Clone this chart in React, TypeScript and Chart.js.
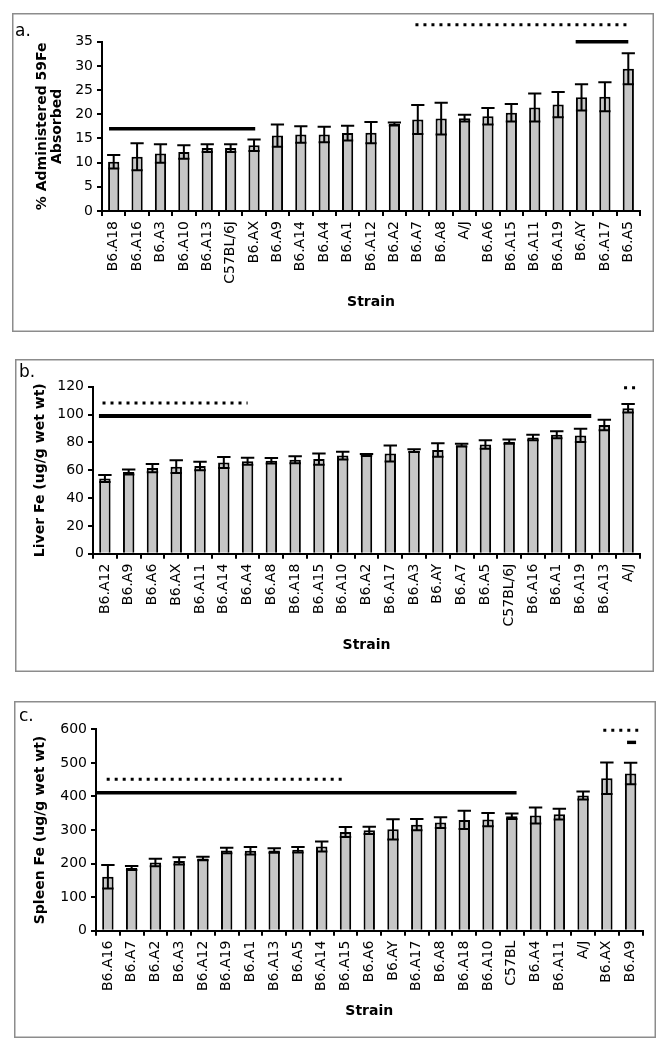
import React, { useEffect, useRef } from 'react';
import { Chart, registerables } from 'chart.js';

Chart.register(...registerables);

const FONT = '"DejaVu Sans", Verdana, sans-serif';
const BAR_FILL = '#c6c6c6';

// ---------- Panel a: % administered 59Fe absorbed ----------
const absorptionStrains = ['B6.A18', 'B6.A16', 'B6.A3', 'B6.A10', 'B6.A13', 'C57BL/6J', 'B6.AX', 'B6.A9', 'B6.A14', 'B6.A4', 'B6.A1', 'B6.A12', 'B6.A2', 'B6.A7', 'B6.A8', 'A/J', 'B6.A6', 'B6.A15', 'B6.A11', 'B6.A19', 'B6.AY', 'B6.A17', 'B6.A5'];
const absorptionMeans = [10.2, 11.2, 11.9, 12.2, 13.0, 13.0, 13.6, 15.6, 15.8, 15.8, 16.1, 16.2, 18.0, 18.9, 19.1, 19.2, 19.6, 20.3, 21.4, 22.0, 23.5, 23.6, 29.4];
const absorptionErrors = [1.4, 2.8, 1.9, 1.4, 0.8, 0.8, 1.2, 2.3, 1.7, 1.6, 1.5, 2.2, 0.3, 3.0, 3.3, 0.7, 1.7, 1.8, 2.9, 2.6, 2.7, 3.0, 3.2];
const absorptionTicks = [0, 5, 10, 15, 20, 25, 30, 35];
const absorptionSolidBars = [
  { from: -0.2, to: 6.05, value: 17 },
  { from: 19.75, to: 22.0, value: 35 },
];
const absorptionDottedBars = [{ from: 12.9, to: 22.05, value: 38.5 }];

// ---------- Panel b: liver Fe ----------
const liverStrains = ['B6.A12', 'B6.A9', 'B6.A6', 'B6.AX', 'B6.A11', 'B6.A14', 'B6.A4', 'B6.A8', 'B6.A18', 'B6.A15', 'B6.A10', 'B6.A2', 'B6.A17', 'B6.A3', 'B6.AY', 'B6.A7', 'B6.A5', 'C57BL/6J', 'B6.A16', 'B6.A1', 'B6.A19', 'B6.A13', 'A/J'];
const liverMeans = [54, 58.7, 61.5, 62.5, 63, 65.5, 66.5, 66.8, 67.5, 68, 70.5, 71, 72, 74, 74.5, 78, 78.5, 80.5, 83.5, 85.5, 85, 92.5, 104.5];
const liverErrors = [2.5, 1.8, 3, 4.6, 3, 4, 2.5, 2, 2.5, 4, 2.8, 0.7, 5.8, 1, 4.8, 1, 3, 1.5, 2, 2.5, 4.8, 3.8, 3];
const liverTicks = [0, 20, 40, 60, 80, 100, 120];
const liverSolidBars = [{ from: -0.25, to: 20.45, value: 99 }];
const liverDottedBars = [
  { from: -0.1, to: 6.0, value: 108.3 },
  { from: 21.83, to: 22.3, value: 119.3 },
];

// ---------- Panel c: spleen Fe ----------
const spleenStrains = ['B6.A16', 'B6.A7', 'B6.A2', 'B6.A3', 'B6.A12', 'B6.A19', 'B6.A1', 'B6.A13', 'B6.A5', 'B6.A14', 'B6.A15', 'B6.A6', 'B6.AY', 'B6.A17', 'B6.A8', 'B6.A18', 'B6.A10', 'C57BL', 'B6.A4', 'B6.A11', 'A/J', 'B6.AX', 'B6.A9'];
const spleenMeans = [161, 187, 203, 208, 215, 239, 238, 239, 241, 251, 294, 299, 302, 316, 322, 330, 331, 341, 343, 347, 403, 454, 468];
const spleenErrors = [35, 6, 11, 11, 5, 8, 11, 7, 8, 15, 15, 11, 30, 17, 16, 27, 20, 8, 24, 16, 12, 47, 32];
const spleenTicks = [0, 100, 200, 300, 400, 500, 600];
const spleenSolidBars = [
  { from: -0.5, to: 17.2, value: 411 },
  { from: 21.85, to: 22.23, value: 561 },
];
const spleenDottedBars = [
  { from: -0.05, to: 10.05, value: 451 },
  { from: 20.85, to: 22.32, value: 597 },
];

type Sig = { from: number; to: number; value: number };
type Frame = {
  left: number; top: number; width: number; height: number;
  padTop: number; padRight: number; padBottom: number;
  yWidth: number; xHeight: number; yTitlePad: number; yTitleLineHeight: number;
  solidWidth: number; letterX: number; letterY: number;
};
type PanelDef = {
  letter: string;
  labels: string[];
  means: number[];
  errors: number[];
  ticks: number[];
  yTitle: string | string[];
  solid: Sig[];
  dotted: Sig[];
  frame: Frame;
};

const PANELS: PanelDef[] = [
  {
    letter: 'a.',
    labels: absorptionStrains,
    means: absorptionMeans,
    errors: absorptionErrors,
    ticks: absorptionTicks,
    yTitle: ['% Administered 59Fe', 'Absorbed'],
    solid: absorptionSolidBars,
    dotted: absorptionDottedBars,
    frame: {
      left: 12, top: 13, width: 642, height: 319,
      padTop: 28.7, padRight: 14, padBottom: 17,
      yWidth: 90, xHeight: 104, yTitlePad: 22.3, yTitleLineHeight: 1.1,
      solidWidth: 3.6, letterX: 3, letterY: 19,
    },
  },
  {
    letter: 'b.',
    labels: liverStrains,
    means: liverMeans,
    errors: liverErrors,
    ticks: liverTicks,
    yTitle: 'Liver Fe (ug/g wet wt)',
    solid: liverSolidBars,
    dotted: liverDottedBars,
    frame: {
      left: 15, top: 359, width: 639, height: 313,
      padTop: 27.7, padRight: 14, padBottom: 14.6,
      yWidth: 78, xHeight: 103.7, yTitlePad: 16.6, yTitleLineHeight: 1.2,
      solidWidth: 4, letterX: 4, letterY: 14,
    },
  },
  {
    letter: 'c.',
    labels: spleenStrains,
    means: spleenMeans,
    errors: spleenErrors,
    ticks: spleenTicks,
    yTitle: 'Spleen Fe (ug/g wet wt)',
    solid: spleenSolidBars,
    dotted: spleenDottedBars,
    frame: {
      left: 14, top: 701, width: 642, height: 337,
      padTop: 28.3, padRight: 13.5, padBottom: 14.6,
      yWidth: 82, xHeight: 92.7, yTitlePad: 17.6, yTitleLineHeight: 1.2,
      solidWidth: 3.4, letterX: 5, letterY: 16,
    },
  },
];

function decorPlugin(panel: PanelDef) {
  return {
    id: 'decor',
    afterDatasetsDraw(chart: any) {
      const ctx = chart.ctx;
      const yScale = chart.scales.y;
      const meta = chart.getDatasetMeta(0);
      ctx.save();
      ctx.strokeStyle = '#000';
      ctx.lineWidth = 2;
      meta.data.forEach((bar: any, i: number) => {
        const m = panel.means[i];
        const e = panel.errors[i];
        const cx = bar.x;
        const w = bar.width;
        const yTop = yScale.getPixelForValue(m + e);
        const yBot = yScale.getPixelForValue(m - e);
        ctx.beginPath();
        ctx.moveTo(cx, yTop);
        ctx.lineTo(cx, yBot);
        ctx.moveTo(cx - w / 2 - 1, yTop);
        ctx.lineTo(cx + w / 2 + 1, yTop);
        ctx.moveTo(cx - w / 2, yBot);
        ctx.lineTo(cx + w / 2, yBot);
        ctx.stroke();
      });
      ctx.restore();
    },
    afterDraw(chart: any) {
      const ctx = chart.ctx;
      const xScale = chart.scales.x;
      const yScale = chart.scales.y;
      const f = panel.frame;
      ctx.save();
      ctx.strokeStyle = '#000';
      ctx.lineCap = 'butt';
      // solid significance bars
      ctx.lineWidth = f.solidWidth;
      panel.solid.forEach((s) => {
        const y = yScale.getPixelForValue(s.value);
        ctx.beginPath();
        ctx.moveTo(xScale.getPixelForValue(s.from), y);
        ctx.lineTo(xScale.getPixelForValue(s.to), y);
        ctx.stroke();
      });
      // dotted significance bars
      ctx.lineWidth = 3;
      ctx.setLineDash([3, 5]);
      panel.dotted.forEach((s) => {
        const y = yScale.getPixelForValue(s.value);
        ctx.beginPath();
        ctx.moveTo(xScale.getPixelForValue(s.from), y);
        ctx.lineTo(xScale.getPixelForValue(s.to), y);
        ctx.stroke();
      });
      ctx.setLineDash([]);
      // frame
      ctx.strokeStyle = '#8c8c8c';
      ctx.lineWidth = 1.5;
      ctx.strokeRect(0.75, 0.75, chart.width - 1.5, chart.height - 1.5);
      // panel letter
      ctx.fillStyle = '#000';
      ctx.font = `17px ${FONT}`;
      ctx.textBaseline = 'middle';
      ctx.textAlign = 'left';
      ctx.fillText(panel.letter, f.letterX, f.letterY);
      ctx.restore();
    },
  };
}

function Panel({ panel }: { panel: PanelDef }) {
  const ref = useRef<HTMLCanvasElement>(null);
  useEffect(() => {
    const f = panel.frame;
    const tickFont = { family: FONT, size: 14 };
    const titleFont = { family: FONT, size: 14, weight: 'bold' as const };
    const chart = new Chart(ref.current as HTMLCanvasElement, {
      type: 'bar',
      data: {
        labels: panel.labels,
        datasets: [
          {
            data: panel.means,
            backgroundColor: BAR_FILL,
            borderColor: '#000',
            borderWidth: 2,
            barPercentage: 0.48,
            categoryPercentage: 1,
          },
        ],
      },
      options: {
        responsive: false,
        animation: false,
        devicePixelRatio: 1,
        layout: { padding: { left: 0, top: f.padTop, right: f.padRight, bottom: f.padBottom } },
        plugins: { legend: { display: false }, tooltip: { enabled: false } },
        scales: {
          x: {
            grid: { display: true, drawOnChartArea: false, drawTicks: true, tickLength: 5, color: '#000', lineWidth: 2, offset: true },
            border: { display: true, color: '#000', width: 2 },
            ticks: { autoSkip: false, maxRotation: 90, minRotation: 90, padding: 5, color: '#000', font: tickFont },
            title: { display: true, text: 'Strain', color: '#000', font: titleFont, padding: { top: 4, bottom: 4 } },
            afterFit: (s: any) => { s.height = f.xHeight; },
          },
          y: {
            min: panel.ticks[0],
            max: panel.ticks[panel.ticks.length - 1],
            grid: { display: true, drawOnChartArea: false, drawTicks: true, tickLength: 5, color: '#000', lineWidth: 2 },
            border: { display: true, color: '#000', width: 2 },
            ticks: { color: '#000', font: tickFont, padding: 4 },
            afterBuildTicks: (s: any) => { s.ticks = panel.ticks.map((v) => ({ value: v })); },
            title: {
              display: true,
              text: panel.yTitle,
              color: '#000',
              font: { ...titleFont, lineHeight: f.yTitleLineHeight },
              padding: { top: f.yTitlePad, bottom: 0 },
            },
            afterFit: (s: any) => { s.width = f.yWidth; },
          },
        },
      },
      plugins: [decorPlugin(panel)],
    } as any);
    return () => chart.destroy();
  }, [panel]);
  const f = panel.frame;
  return (
    <canvas
      ref={ref}
      width={f.width}
      height={f.height}
      style={{ position: 'absolute', left: f.left, top: f.top, width: f.width, height: f.height }}
    />
  );
}

export default function App() {
  return (
    <div style={{ position: 'absolute', left: 0, top: 0, width: 664, height: 1050, background: '#fff' }}>
      {PANELS.map((p) => (
        <Panel key={p.letter} panel={p} />
      ))}
    </div>
  );
}
